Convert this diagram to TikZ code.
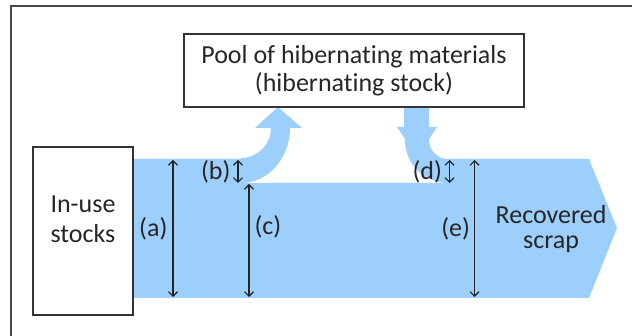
\documentclass[tikz,border=0pt]{standalone}
\usepackage{fontspec}
\setmainfont{Carlito}[Ligatures=NoCommon]
\usepackage{tikz}
\usetikzlibrary{arrows.meta,positioning}
\definecolor{flowblue}{RGB}{157,207,252}
\definecolor{framegray}{RGB}{70,70,70}
\definecolor{dimgray}{RGB}{35,35,35}

\begin{document}
\begin{tikzpicture}[
  x=1pt, y=-1pt,
  every node/.style={font=\fontsize{26}{28}\selectfont, inner sep=0pt, text=black!85},
  box/.style={draw=black!80, line width=1.3pt, fill=white},
  flow/.style={fill=flowblue},
  dim/.style={{Straight Barb[length=4.5pt,width=9pt]}-{Straight Barb[length=4.5pt,width=9pt]}, draw=dimgray, line width=1.1pt}
]
  \useasboundingbox (0,0) rectangle (632,336);
  \draw[framegray, line width=1.5pt] (11,336) -- (11,6) -- (632,6);

  \fill[flow] (133,159) -- (241,159) -- (241,183) -- (448,183) -- (448,159) -- (589,159)
    -- (617,228) -- (589,298) -- (133,298) -- cycle;
  \fill[flow] (241,158) arc[start angle=90, end angle=0, radius=30] -- (255,128) -- (278,107)
    -- (302,128) -- (290,128) arc[start angle=0, end angle=90, x radius=49, y radius=55] -- cycle;
  \fill[flow] (404,107) -- (429,107) -- (429,127) -- (437,127) -- (429,139) -- (429,140)
    arc[start angle=180, end angle=90, radius=19] -- (448,183)
    arc[start angle=90, end angle=180, radius=43] -- (405,139) -- (397,127) -- (404,127) -- cycle;

  \node[box, minimum width=340pt, minimum height=73pt, align=center,
    font=\fontsize{26}{27.7}\selectfont] (pool) at (354,70.5)
    {Pool of hibernating materials\\(hibernating stock)};
  \node[box, line width=1.5pt, minimum width=100pt, minimum height=168pt] (inuse) at (83,231) {};
  \node[align=center, font=\fontsize{26}{29.7}\selectfont] (inusetxt) at (83,219.5) {In-use\\stocks};
  \node[align=center, font=\fontsize{26}{24.5}\selectfont] (scrap) at (551,229) {Recovered\\scrap};

  \coordinate (atop) at (173,160);
  \coordinate (abot) at (173,297);
  \coordinate (btop) at (238,160);
  \coordinate (bbot) at (238,183);
  \coordinate (ctop) at (249,184);
  \coordinate (cbot) at (249,297);
  \coordinate (dtop) at (449.5,160);
  \coordinate (dbot) at (449.5,183);
  \coordinate (etop) at (474.5,160);
  \coordinate (ebot) at (474.5,297);

  \draw[dim] (atop) -- node[left=5pt] (alab) {(a)} (abot);
  \draw[dim] (btop) -- node[left=7pt] (blab) {(b)} (bbot);
  \draw[dim] (ctop) -- node[pos=0.38, right=5pt] (clab) {(c)} (cbot);
  \draw[dim] (dtop) -- node[left=7pt] (dlab) {(d)} (dbot);
  \draw[dim] (etop) -- node[left=4pt] (elab) {(e)} (ebot);
\end{tikzpicture}
\end{document}
